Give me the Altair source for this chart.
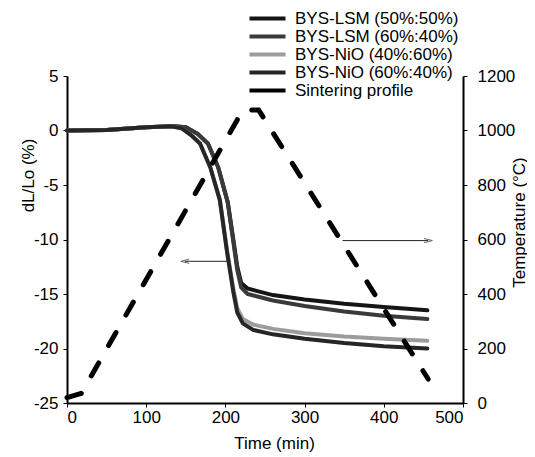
import altair as alt
import pandas as pd

series_names = ["BYS-LSM (50%:50%)", "BYS-LSM (60%:40%)", "BYS-NiO (40%:60%)",
                "BYS-NiO (60%:40%)", "Sintering profile"]
series_colors = ["#151515", "#3a3a3a", "#9c9c9c", "#262626", "#000000"]

# shrinkage curves (time in min, dL/Lo in %)
t_lsm = [0, 50, 100, 135, 150, 165, 178, 191, 203, 210, 215, 220, 228, 260, 300, 350, 400, 455]
dl_lsm5050 = [0, 0.05, 0.3, 0.4, 0.3, -0.3, -1.2, -3.4, -6.6, -10.0, -12.5, -14.0, -14.5,
              -15.1, -15.5, -15.9, -16.2, -16.5]
dl_lsm6040 = [0, 0.05, 0.3, 0.4, 0.3, -0.3, -1.2, -3.4, -6.6, -10.2, -12.8, -14.4, -15.0,
              -15.6, -16.1, -16.6, -17.0, -17.3]
t_nio = [0, 50, 100, 130, 145, 158, 168, 181, 193, 202, 210, 215, 222, 235, 260, 300, 350, 400, 455]
dl_nio4060 = [0, 0.05, 0.3, 0.4, 0.2, -0.5, -1.2, -3.4, -6.4, -11.0, -14.5, -16.3, -17.3,
              -17.8, -18.2, -18.6, -18.9, -19.1, -19.3]
dl_nio6040 = [0, 0.05, 0.3, 0.4, 0.2, -0.5, -1.2, -3.4, -6.4, -11.1, -14.8, -16.7, -17.7,
              -18.3, -18.7, -19.1, -19.5, -19.8, -20.0]

# sintering profile (time in min, temperature in degC)
t_profile = [0, 18, 222, 242, 456]
temp_profile = [20, 35, 1075, 1075, 88]

# annotation arrows (on dL/Lo scale)
arrow_y = [-12.0, -10.1]
arrow_start = [202, 348]
arrow_end = [149, 456]
arrow_dir = ["left", "right"]

rows = []
for name, ts, vs in [(series_names[0], t_lsm, dl_lsm5050), (series_names[1], t_lsm, dl_lsm6040),
                     (series_names[2], t_nio, dl_nio4060), (series_names[3], t_nio, dl_nio6040)]:
    for t, v in zip(ts, vs):
        rows.append({"series": name, "time": t, "dl": v})
df_dl = pd.DataFrame(rows)
df_prof = pd.DataFrame({"series": series_names[4], "time": t_profile, "temp": temp_profile})
df_arrow = pd.DataFrame({"y": arrow_y, "x1": arrow_start, "x2": arrow_end, "dir": arrow_dir})

FONT = "Liberation Sans"
HYPHEN = "replace(format(datum.value, 'd'), '\u2212', '-')"
xscale = alt.Scale(domain=[0, 500], nice=False)
color = alt.Color("series:N", scale=alt.Scale(domain=series_names, range=series_colors),
                  legend=alt.Legend(title=None, orient="none", legendX=192, legendY=-66,
                                    symbolType="M-3,0H3", symbolSize=144, symbolStrokeWidth=4,
                                    labelFontSize=17, labelFont=FONT, labelColor="#000",
                                    labelLimit=0, rowPadding=0, labelOffset=19))

xaxis = alt.Axis(values=[0, 100, 200, 300, 400, 500], title="Time (min)", grid=False,
                 titleX=207, titleY=40, titleBaseline="middle")
yaxis_l = alt.Axis(values=[-25, -20, -15, -10, -5, 0, 5], title="dL/Lo (%)", grid=False,
                   titleAngle=270, titleX=-39, titleY=99, titleBaseline="middle",
                   titleAlign="center", labelPadding=5, labelExpr=HYPHEN)
yaxis_r = alt.Axis(values=[0, 200, 400, 600, 800, 1000, 1200], title="Temperature (°C)",
                   grid=False, orient="right", titleAngle=270, titleX=56, titleY=146,
                   titleBaseline="middle", titleAlign="center", labelPadding=10,
                   labelExpr=HYPHEN)

dl_lines = alt.Chart(df_dl).mark_line(strokeWidth=4, strokeCap="round").encode(
    x=alt.X("time:Q", scale=xscale, axis=xaxis),
    y=alt.Y("dl:Q", scale=alt.Scale(domain=[-25, 5], nice=False), axis=yaxis_l),
    color=color,
    detail="series:N",
)

arrow_lines = alt.Chart(df_arrow).mark_rule(strokeWidth=1, color="#222").encode(
    x=alt.X("x1:Q", scale=xscale),
    x2="x2:Q",
    y=alt.Y("y:Q", scale=alt.Scale(domain=[-25, 5], nice=False)),
)
arrow_heads = alt.Chart(df_arrow).mark_point(filled=False, strokeWidth=1, color="#222", size=70).encode(
    x=alt.X("x2:Q", scale=xscale),
    y=alt.Y("y:Q", scale=alt.Scale(domain=[-25, 5], nice=False)),
    shape=alt.Shape("dir:N", scale=alt.Scale(domain=["left", "right"],
                                             range=["M1,-0.5L-1,0L1,0.5", "M-1,-0.5L1,0L-1,0.5"]),
                    legend=None),
)

left_layer = alt.layer(dl_lines, arrow_lines, arrow_heads)

prof = alt.Chart(df_prof).mark_line(strokeWidth=5, strokeDash=[15, 20], strokeCap="round").encode(
    x=alt.X("time:Q", scale=xscale),
    y=alt.Y("temp:Q", scale=alt.Scale(domain=[0, 1200], nice=False), axis=yaxis_r),
    color=color,
)

chart = alt.layer(left_layer, prof).resolve_scale(y="independent").properties(
    width=396, height=327,
    autosize=alt.AutoSizeParams(type="none"),
    padding={"left": 59, "top": 68, "right": 64, "bottom": 50},
).configure_view(stroke=None).configure_axis(
    labelFont=FONT, titleFont=FONT, labelFontSize=17, titleFontSize=17,
    labelColor="#000", titleColor="#000", titleFontWeight="normal",
    domainColor="#000", domainWidth=2, tickColor="#000", tickSize=4,
)

chart.save("out.html", embed_options={"renderer": "svg", "actions": False})
